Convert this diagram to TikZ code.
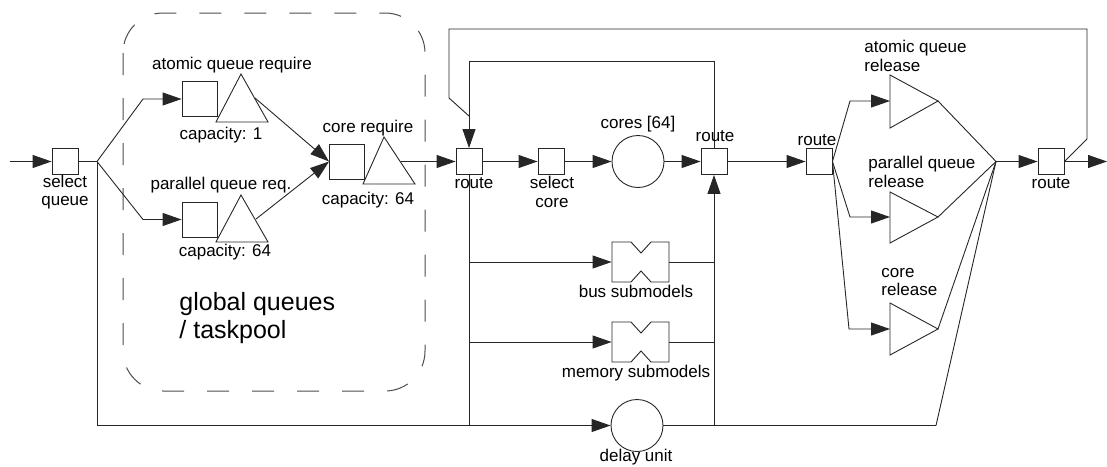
\documentclass[tikz,border=0pt]{standalone}
\usepackage{fontspec}
\setmainfont{Liberation Sans}
\usetikzlibrary{arrows.meta}
\begin{document}
\begin{tikzpicture}[x=1pt,y=-1pt,line width=0.9pt,color=black!85,text=black,
  box/.style={draw,minimum width=26pt,minimum height=26pt,inner sep=0pt},
  bigbox/.style={draw,minimum width=35pt,minimum height=35pt,inner sep=0pt},
  station/.style={draw,circle,minimum size=52pt,inner sep=0pt},
  subframe/.style={minimum width=57pt,minimum height=40pt,inner sep=0pt},
  arr/.style={-{Triangle[length=19pt,width=13pt]}},
  lbl/.style={font=\fontsize{17}{18.5}\selectfont,inner sep=0pt,align=center},
  biglbl/.style={font=\fontsize{25}{28}\selectfont,inner sep=0pt,align=left},
  group/.style={draw=black!70,line width=1pt,dash pattern=on 22pt off 23pt,rounded corners=40pt}]
\useasboundingbox (0,0) rectangle (1107,466);

% group frame
\draw[group] (123,13) rectangle (425,391);
\node[biglbl,anchor=west] (glob) at (179,318) {global queues\\/ taskpool};

% main row nodes
\coordinate (in) at (10,161.5);
\node[box] (selq) at (65,161.5) {};
\coordinate (split) at (97,161.5);

\node[bigbox] (aq) at (199.5,99) {};
\draw (216,122) -- (241,74) -- (268,122) -- cycle;
\coordinate (aqt) at (255,98);

\node[bigbox] (pq) at (199.5,219.5) {};
\draw (216,242) -- (241,195) -- (268,242) -- cycle;
\coordinate (pqt) at (256,219);

\node[bigbox] (cr) at (347,161.5) {};
\draw (363,184) -- (384,137) -- (415,184) -- cycle;
\coordinate (crt) at (401,161.5);

\node[box] (r1) at (469,161.5) {};
\node[box] (selc) at (551,161.5) {};
\node[station] (cores) at (638,161.5) {};
\node[box] (r2) at (714,161.5) {};
\node[box] (r3) at (819,161.5) {};
\coordinate (conv) at (996,161.5);
\node[box] (r4) at (1051,161.5) {};
\coordinate (out) at (1107,161.5);

% release triangles
\draw (890,75) -- (938,101) -- (890,128) -- cycle;
\coordinate (arin) at (890,101); \coordinate (arout) at (938,101);
\draw (890,192) -- (938,217) -- (890,243) -- cycle;
\coordinate (prin) at (890,217); \coordinate (prout) at (938,217);
\draw (890,303) -- (938,329) -- (890,355) -- cycle;
\coordinate (crin) at (890,329); \coordinate (crout) at (938,329);

% submodels
\node[subframe] (bus) at (640.5,262) {};
\draw (612,242) -- (631,242) -- (641,253) -- (651,242) -- (669,242)
  -- (669,282) -- (651,282) -- (641,271) -- (631,282) -- (612,282) -- cycle;
\node[subframe] (mem) at (640.5,342) {};
\draw (612,322) -- (631,322) -- (641,333) -- (651,322) -- (669,322)
  -- (669,362) -- (651,362) -- (641,351) -- (631,362) -- (612,362) -- cycle;
\node[station] (delay) at (637,425.5) {};
\coordinate (bot) at (936,425.5);
\coordinate (j1) at (469,116);

% connectors
\draw[arr] (in) -- (selq);
\draw (selq) -- (split);
\draw[arr] (split) -- (143,99) -- (aq);
\draw[arr] (split) -- (143,219.5) -- (pq);
\draw[arr] (aqt) -- (cr.west);
\draw[arr] (pqt) -- (cr.west);
\draw[arr] (crt) -- (r1);
\draw[arr] (r1) -- (selc);
\draw[arr] (selc) -- (cores);
\draw[arr] (cores) -- (r2);
\draw[arr] (r2) -- (r3);
\draw[arr] (r3.east) -- (850,101) -- (arin);
\draw[arr] (r3.east) -- (850,217) -- (prin);
\draw[arr] (r3.east) -- (849,329) -- (crin);
\draw (arout) -- (conv);
\draw (prout) -- (conv);
\draw (crout) -- (conv);
\draw (bot) -- (conv);
\draw[arr] (conv) -- (r4);
\draw[arr] (r4) -- (out);
\draw (r4.east) -- (1087,139) -- (1087,29) -- (449,29) -- (449,98) -- (j1);
\draw (r2.north) -- (714,61) -- (469,61) -- (j1);
\draw[arr] (j1) -- (r1.north);
\draw (r1.south) -- (469,425.5);
\draw[arr] (469,262) -- (bus.west);
\draw[arr] (469,342) -- (mem.west);
\draw (bus.east) -- (714,262);
\draw (mem.east) -- (714,342);
\draw[arr] (714,425.5) -- (r2.south);
\draw[arr] (split) -- (97,425.5) -- (delay.west);
\draw (delay.east) -- (bot);

% labels
\node[lbl] (selqlbl) at (65,192) {select\\queue};
\node[lbl] (aqlbl) at (232,65) {atomic queue require};
\node[lbl] (aqcap) at (221,135) {capacity: 1};
\node[lbl] (pqlbl) at (221,185) {parallel queue req.};
\node[lbl] (pqcap) at (225,252) {capacity: 64};
\node[lbl] (crlbl) at (368,128) {core require};
\node[lbl] (crcap) at (368,200) {capacity: 64};
\node[lbl] (r1lbl) at (474,183) {route};
\node[lbl] (selclbl) at (552,192) {select\\core};
\node[lbl] (coreslbl) at (638,124) {cores [64]};
\node[lbl] (r2lbl) at (715,136) {route};
\node[lbl] (r3lbl) at (817,140) {route};
\node[lbl,anchor=west,align=left] (arlbl) at (864,56) {atomic queue\\release};
\node[lbl,anchor=west,align=left] (prlbl) at (868,172) {parallel queue\\release};
\node[lbl,anchor=west,align=left] (crrlbl) at (881,282) {core\\release};
\node[lbl] (r4lbl) at (1051,183) {route};
\node[lbl] (buslbl) at (636,291) {bus submodels};
\node[lbl] (memlbl) at (636,373) {memory submodels};
\node[lbl] (delaylbl) at (636,457) {delay unit};
\end{tikzpicture}
\end{document}
